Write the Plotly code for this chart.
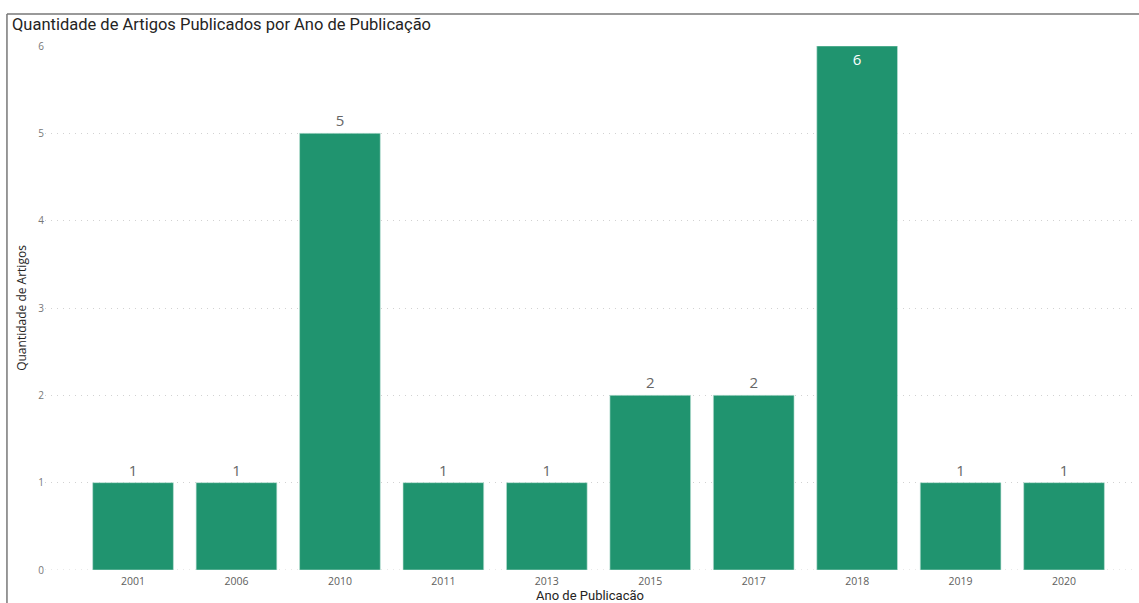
import plotly.graph_objects as go

anos = ["2001", "2006", "2010", "2011", "2013", "2015", "2017", "2018", "2019", "2020"]
quantidade = [1, 1, 5, 1, 1, 2, 2, 6, 1, 1]
y_ticks = [0, 1, 2, 3, 4, 5, 6]

titulo = "Quantidade de Artigos Publicados por Ano de Publicação"
titulo_x = "Ano de Publicacão"
titulo_y = "Quantidade de Artigos"

bar_color = "#20946F"
vmax = max(quantidade)
positions = ["inside" if v == vmax else "outside" for v in quantidade]

fig = go.Figure(
    go.Bar(
        x=anos,
        y=quantidade,
        marker=dict(color=bar_color, line=dict(color="#BFE3D6", width=0.6)),
        width=0.78,
        text=[str(v) for v in quantidade],
        textposition=positions,
        insidetextanchor="end",
        textangle=0,
        insidetextfont=dict(color="white", size=15, family="Open Sans"),
        outsidetextfont=dict(color="#666666", size=15, family="Open Sans"),
        cliponaxis=False,
        hoverinfo="x+y",
    )
)

fig.update_layout(
    width=1139,
    height=603,
    margin=dict(l=45, r=4, t=46, b=33),
    paper_bgcolor="white",
    plot_bgcolor="white",
    showlegend=False,
    title=dict(
        text=titulo,
        xref="container",
        x=12 / 1139,
        xanchor="left",
        yref="container",
        y=1 - 24 / 603,
        yanchor="middle",
        font=dict(family="Roboto", size=16.5, color="#252423"),
    ),
    xaxis=dict(
        type="category",
        range=[-0.851, 9.686],
        automargin=False,
        showgrid=False,
        zeroline=False,
        showline=False,
        ticks="",
        ticklabelstandoff=3,
        tickfont=dict(family="Open Sans", size=10.5, color="#605E5C"),
        title=dict(text=titulo_x, font=dict(family="Roboto", size=13, color="#252423"), standoff=6),
    ),
    yaxis=dict(
        range=[0, 6],
        tickvals=y_ticks,
        automargin=False,
        showgrid=True,
        gridcolor="#D2D2D2",
        griddash="1px,5px",
        gridwidth=1,
        zeroline=False,
        showline=False,
        ticks="",
        tickfont=dict(family="Open Sans", size=10, color="#777777"),
        title=dict(text=titulo_y, font=dict(family="Open Sans", size=12, color="#252423"), standoff=9),
    ),
    shapes=[
        dict(type="line", xref="paper", yref="paper", x0=-0.0349, x1=-0.0349, y0=1.0611, y1=-0.07,
             line=dict(color="#777777", width=1.5)),
        dict(type="line", xref="paper", yref="paper", x0=-0.0349, x1=1.01, y0=1.0611, y1=1.0611,
             line=dict(color="#777777", width=1.5)),
        dict(type="line", xref="paper", yref="y", x0=0, x1=1, y0=0, y1=0, layer="below",
             line=dict(color="#D2D2D2", width=1, dash="1px,5px")),
    ],
)

fig.write_html("out.html")
